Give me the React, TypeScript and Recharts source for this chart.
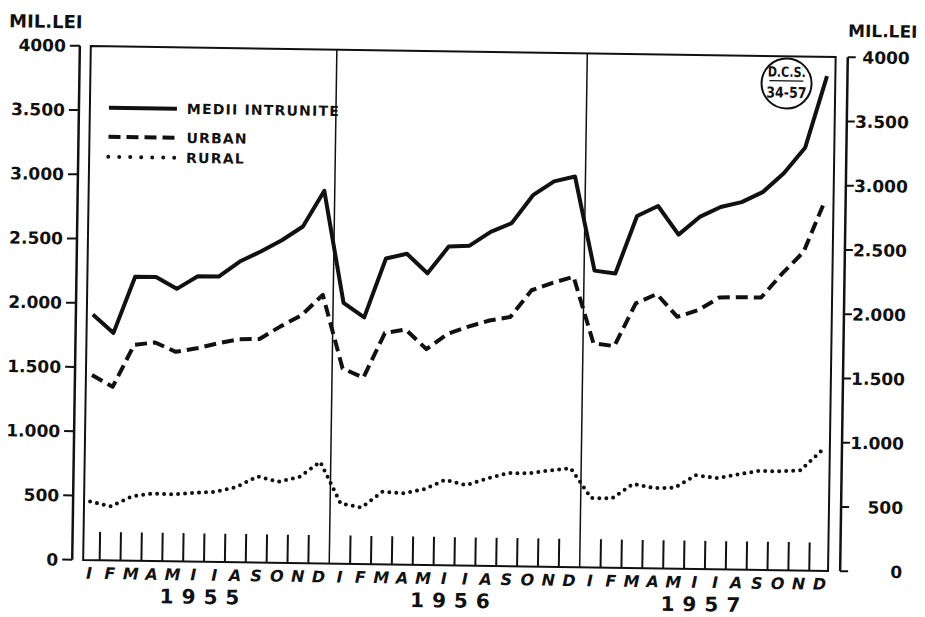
import {
  Legend,
  Line,
  LineChart,
  ReferenceArea,
  ReferenceLine,
  XAxis,
  YAxis,
} from "recharts";

// Monthly values, 1955–1957 (mil. lei).
const MONTHS = ["I", "F", "M", "A", "M", "I", "I", "A", "S", "O", "N", "D"];
const YEARS = ["1955", "1956", "1957"];

const TOTAL = [
  1910, 1770, 2210, 2210, 2120, 2220, 2220, 2340, 2420, 2510, 2620, 2900,
  2030, 1920, 2380, 2420, 2270, 2480, 2490, 2600, 2670, 2890, 3000, 3040,
  2310, 2290, 2740, 2820, 2600, 2740, 2820, 2860, 2940, 3090, 3290, 3850,
];
const URBAN = [
  1440, 1350, 1680, 1700, 1630, 1660, 1700, 1735, 1740, 1840, 1930, 2090,
  1520, 1450, 1800, 1830, 1680, 1800, 1860, 1910, 1940, 2150, 2210, 2260,
  1745, 1725, 2060, 2135, 1960, 2015, 2115, 2120, 2120, 2310, 2480, 2885,
];
const RURAL = [
  455, 420, 500, 525, 520, 535, 545, 585, 670, 630, 670, 790,
  470, 440, 565, 555, 590, 665, 625, 680, 725, 725, 750, 770,
  540, 540, 655, 625, 630, 730, 710, 740, 770, 770, 780, 935,
];

const Y_TICKS = [0, 500, 1000, 1500, 2000, 2500, 3000, 3500, 4000];
const Y_LABELS = ["0", "500", "1.000", "1.500", "2.000", "2.500", "3.000", "3.500", "4000"];

// both scales are identical (0–4000), the rural line is hung on the right one
// so that axis gets a domain of its own
const SERIES = [
  { key: "total", name: "MEDII INTRUNITE", axis: "left", dash: undefined, legendDash: undefined, cap: "butt" },
  { key: "urban", name: "URBAN", axis: "left", dash: "12 6", legendDash: "12 6", cap: "butt" },
  { key: "rural", name: "RURAL", axis: "right", dash: "0 7", legendDash: "0 11", cap: "round" },
] as const;

const data = TOTAL.map((t, i) => ({
  idx: i,
  month: MONTHS[i % 12],
  total: t,
  urban: URBAN[i],
  rural: RURAL[i],
}));

const monthTicks = data.map((d) => d.idx);
const yearTicks = YEARS.map((_, y) => y * 12 + 5.5);
// little upright marks between months, plus the year dividers
const betweenMonths = data
  .map((d) => d.idx + 0.5)
  .filter((x) => x < 35 && (x + 0.5) % 12 !== 0);
const dividers = [11.5, 23.5];

const INK = "#111";
const FONT = "'DejaVu Sans', sans-serif";
const X_DOMAIN = [-0.815, 35.98];

const yLabel = (v: number) => Y_LABELS[Y_TICKS.indexOf(v)] ?? String(v);

function RightTick(props: any) {
  const { x, y, payload } = props;
  return (
    <text
      x={x + 52}
      y={y}
      dy="0.36em"
      textAnchor="end"
      fill={INK}
      fontFamily={FONT}
      fontSize={17}
      fontWeight={700}
    >
      {yLabel(payload.value)}
    </text>
  );
}

function LegendBox() {
  return (
    <div style={{ fontFamily: FONT, color: INK }}>
      {SERIES.map((s, i) => (
        <div
          key={s.key}
          style={{
            display: "flex",
            alignItems: "center",
            height: 20,
            marginTop: i === 1 ? 9 : 0,
          }}
        >
          <svg width={72} height={8} style={{ display: "block" }}>
            <line
              x1={2}
              y1={4}
              x2={70}
              y2={4}
              stroke={INK}
              strokeWidth={4}
              strokeDasharray={s.legendDash}
              strokeLinecap={s.cap}
            />
          </svg>
          <span
            style={{
              marginLeft: 8,
              fontSize: 14,
              fontWeight: 700,
              letterSpacing: 1.2,
              whiteSpace: "nowrap",
            }}
          >
            {s.name}
          </span>
        </div>
      ))}
    </div>
  );
}

export default function App() {
  return (
    <div
      style={{
        position: "absolute",
        left: 0,
        top: 0,
        width: 925,
        height: 617,
        background: "#fff",
        overflow: "hidden",
      }}
    >
      <div
        style={{
          position: "relative",
          width: 925,
          height: 617,
          transform: "rotate(0.85deg)",
          transformOrigin: "462px 308px",
        }}
      >
        <LineChart
          width={925}
          height={617}
          data={data}
          margin={{ top: 51.5, right: 11, bottom: 3.5, left: 6 }}
        >
          <XAxis
            dataKey="idx"
            type="number"
            domain={X_DOMAIN}
            ticks={monthTicks}
            interval={0}
            tickFormatter={(v: number) => MONTHS[v % 12]}
            axisLine={false}
            tickLine={false}
            tickSize={0}
            tickMargin={7.5}
            height={22}
            tick={{
              fill: INK,
              fontSize: 16,
              fontWeight: 700,
              fontStyle: "italic",
              fontFamily: FONT,
            }}
          />
          <XAxis
            xAxisId="year"
            dataKey="idx"
            type="number"
            domain={X_DOMAIN}
            ticks={yearTicks}
            interval={0}
            tickFormatter={(v: number) => YEARS[Math.floor(v / 12)]}
            axisLine={false}
            tickLine={false}
            tickSize={0}
            tickMargin={6}
            height={26}
            tick={{
              fill: INK,
              fontSize: 20,
              fontWeight: 700,
              fontFamily: FONT,
              letterSpacing: 8,
            }}
          />
          <YAxis
            yAxisId="left"
            orientation="left"
            width={70}
            domain={[0, 4000]}
            ticks={Y_TICKS}
            interval={0}
            tickFormatter={yLabel}
            tickSize={10}
            tickMargin={4}
            axisLine={{ stroke: INK, strokeWidth: 2.5 }}
            tickLine={{ stroke: INK, strokeWidth: 2 }}
            tick={{ fill: INK, fontSize: 17, fontWeight: 700, fontFamily: FONT }}
          />
          <YAxis
            yAxisId="right"
            orientation="right"
            width={70}
            domain={[0, 4000]}
            ticks={Y_TICKS}
            interval={0}
            tickSize={8}
            tickMargin={2}
            axisLine={{ stroke: INK, strokeWidth: 2.5 }}
            tickLine={{ stroke: INK, strokeWidth: 2 }}
            tick={(p: any) => <RightTick {...p} />}
          />

          {/* plot frame */}
          <ReferenceArea
            yAxisId="left"
            x1={-0.29}
            x2={35.4}
            y1={0}
            y2={4000}
            fill="none"
            fillOpacity={0}
            stroke={INK}
            strokeWidth={2}
          />
          {dividers.map((x) => (
            <ReferenceLine
              key={`div-${x}`}
              yAxisId="left"
              x={x}
              stroke={INK}
              strokeWidth={1.5}
            />
          ))}
          {betweenMonths.map((x) => (
            <ReferenceLine
              key={`tk-${x}`}
              yAxisId="left"
              segment={[
                { x, y: 0 },
                { x, y: 220 },
              ]}
              stroke={INK}
              strokeWidth={2}
            />
          ))}

          {SERIES.map((s) => (
            <Line
              key={s.key}
              yAxisId={s.axis}
              dataKey={s.key}
              name={s.name}
              type="linear"
              stroke={INK}
              strokeWidth={4}
              strokeDasharray={s.dash}
              strokeLinecap={s.cap}
              strokeLinejoin="round"
              dot={false}
              activeDot={false}
              isAnimationActive={false}
            />
          ))}

          <Legend
            layout="horizontal"
            verticalAlign="middle"
            align="center"
            content={<LegendBox />}
            wrapperStyle={{ left: 104, top: 103, width: 260, height: 72 }}
          />
        </LineChart>

        <svg
          width={925}
          height={617}
          style={{ position: "absolute", left: 0, top: 0, pointerEvents: "none" }}
        >
          <text x={5} y={34} fill={INK} fontFamily={FONT} fontSize={18} fontWeight={700}>
            MIL.LEI
          </text>
          <text x={844} y={31} fill={INK} fontFamily={FONT} fontSize={17} fontWeight={700}>
            MIL.LEI
          </text>
          <circle cx={783.2} cy={78.7} r={25} fill="#fff" stroke={INK} strokeWidth={2} />
          <text
            x={783.2}
            y={72}
            textAnchor="middle"
            fill={INK}
            fontFamily={FONT}
            fontSize={14}
            fontWeight={700}
            textLength={38}
            lengthAdjust="spacingAndGlyphs"
          >
            D.C.S.
          </text>
          <line x1={766} y1={76} x2={800} y2={76} stroke={INK} strokeWidth={1.2} />
          <text
            x={783.2}
            y={93}
            textAnchor="middle"
            fill={INK}
            fontFamily={FONT}
            fontSize={15}
            fontWeight={700}
            textLength={40}
            lengthAdjust="spacingAndGlyphs"
          >
            34-57
          </text>
        </svg>
      </div>
    </div>
  );
}
